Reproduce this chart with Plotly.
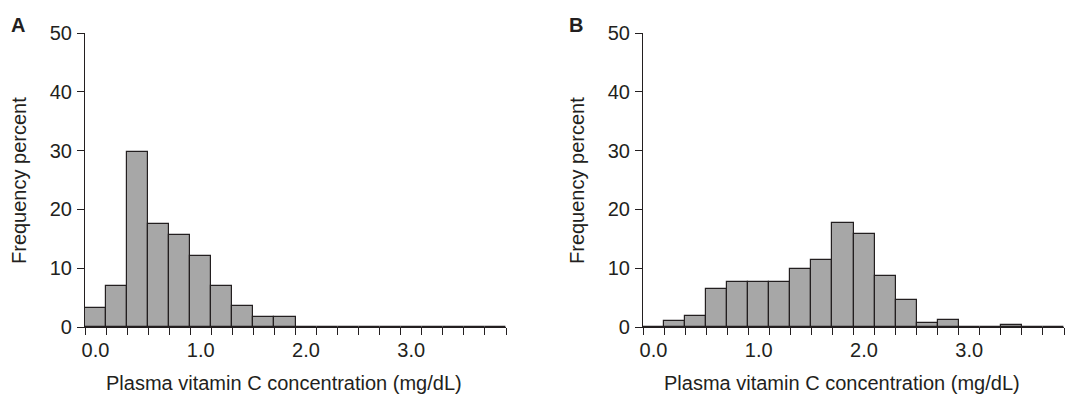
import plotly.graph_objects as go

# Bin centers (mg/dL), bin width 0.2
bin_centers = [round(0.2 * i, 1) for i in range(20)]
bin_width = 0.2

freq_A = [3.3, 6.9, 29.8, 17.5, 15.6, 12.0, 6.9, 3.6, 1.7, 1.7,
          0, 0, 0, 0, 0, 0, 0, 0, 0, 0]
freq_B = [0, 1.0, 1.9, 6.5, 7.7, 7.7, 7.6, 9.8, 11.4, 17.7,
          15.9, 8.7, 4.6, 0.6, 1.2, 0, 0, 0.4, 0, 0]

x_tick_vals = [0, 1, 2, 3]
x_tick_text = ["0.0", "1.0", "2.0", "3.0"]
y_tick_vals = [0, 10, 20, 30, 40, 50]

panel_labels = ["A", "B"]
x_title = "Plasma vitamin C concentration (mg/dL)"
y_title = "Frequency percent"

edges = [c - bin_width / 2 for c in bin_centers] + [bin_centers[-1] + bin_width / 2]

INK = "#231f20"
FILL = "#a7a7a7"
FONT = "Liberation Sans, Arial, sans-serif"
FS = 20

fig = go.Figure()
for i, ys in enumerate([freq_A, freq_B]):
    fig.add_trace(go.Bar(
        x=bin_centers, y=ys, width=bin_width,
        marker=dict(color=FILL, line=dict(color=INK, width=1.2)),
        xaxis="x" if i == 0 else "x2", yaxis="y" if i == 0 else "y2",
        showlegend=False,
    ))

W, H = 1087, 396
OFF = 8  # page body margin offset
ydom = [1 - (327 - OFF) / H, 1 - (33 - OFF) / H]
xdoms = [[(85 - OFF) / W, (506 - OFF) / W], [(643 - OFF) / W, (1064 - OFF) / W]]

def xaxis(dom, anchor):
    return dict(
        domain=dom, anchor=anchor, automargin=False,
        range=[edges[0], edges[-1] + 1e-6],
        tickmode="array", tickvals=x_tick_vals, ticktext=x_tick_text,
        ticks="", ticklabelstandoff=5,
        showline=True, linecolor=INK, linewidth=1.2,
        showgrid=False, zeroline=False,
        tickfont=dict(family=FONT, size=FS, color=INK),
        minor=dict(tickmode="array", tickvals=edges, ticks="outside",
                   ticklen=7, tickwidth=1.2, tickcolor=INK, showgrid=False),
    )

def yaxis(anchor):
    return dict(
        domain=ydom, anchor=anchor, range=[0, 50], automargin=False,
        tickmode="array", tickvals=y_tick_vals,
        ticks="outside", ticklen=7, tickwidth=1.2, tickcolor=INK,
        ticklabelstandoff=1,
        showline=True, linecolor=INK, linewidth=1.2,
        showgrid=False, zeroline=False,
        tickfont=dict(family=FONT, size=FS, color=INK),
    )

fig.update_layout(
    template="none",
    width=W, height=H, autosize=False,
    margin=dict(l=0, r=0, t=0, b=0, pad=0),
    paper_bgcolor="white", plot_bgcolor="white",
    bargap=0,
    xaxis=xaxis(xdoms[0], "y"),
    yaxis=yaxis("x"),
    xaxis2=xaxis(xdoms[1], "y2"),
    yaxis2=yaxis("x2"),
)

annotations = []
for i, dom in enumerate(xdoms):
    annotations.append(dict(
        text=x_title, xref="paper", yref="paper",
        x=(dom[0] + dom[1]) / 2 - 12 / W, y=1 - (383 - OFF) / H,
        xanchor="center", yanchor="middle", showarrow=False,
        font=dict(family=FONT, size=FS, color=INK)))
    annotations.append(dict(
        text=y_title, xref="paper", yref="paper",
        x=(dom[0] * W - 66) / W, y=1 - (181 - OFF) / H, textangle=-90,
        xanchor="center", yanchor="middle", showarrow=False,
        font=dict(family=FONT, size=FS, color=INK)))
    annotations.append(dict(
        text="<b>" + panel_labels[i] + "</b>", xref="paper", yref="paper",
        x=(dom[0] * W - 67) / W, y=1 - (25 - OFF) / H,
        xanchor="center", yanchor="middle", showarrow=False,
        font=dict(family=FONT, size=20, color=INK)))
fig.update_layout(annotations=annotations)

fig.write_html("out.html")
